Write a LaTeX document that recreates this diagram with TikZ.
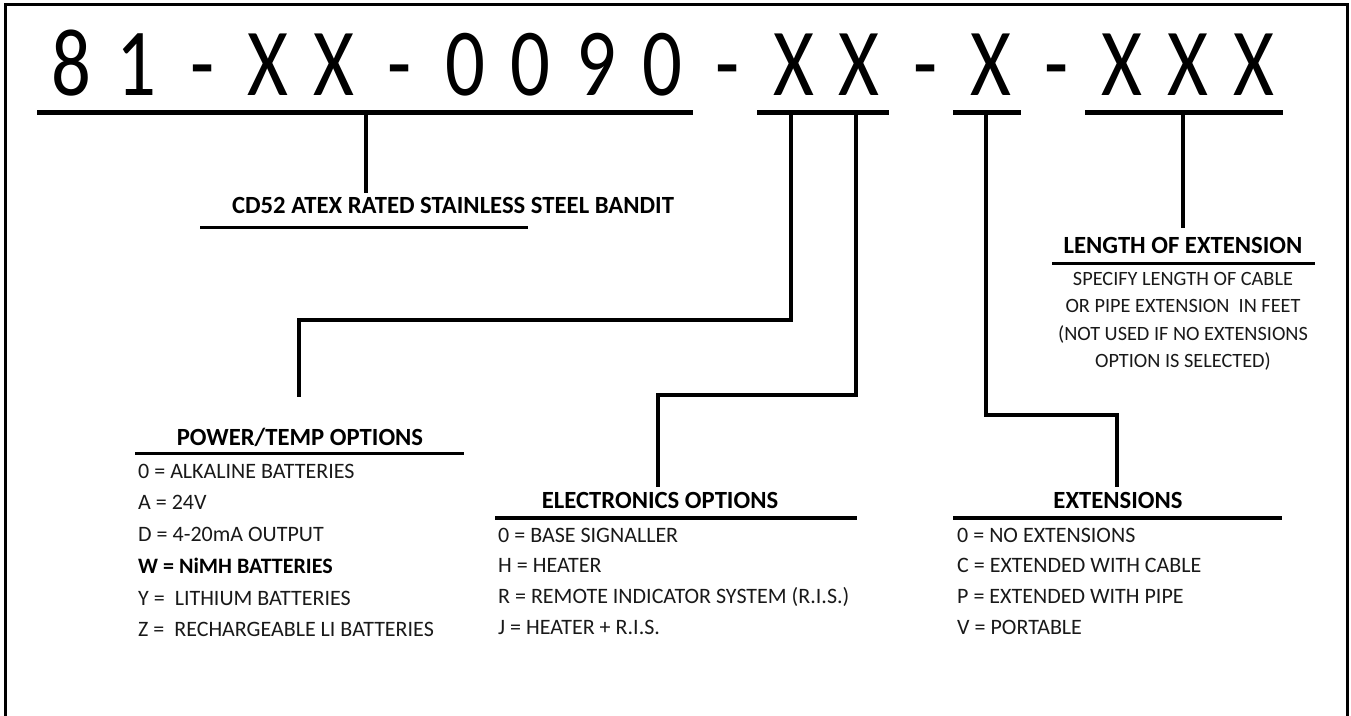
\documentclass[tikz,border=0pt]{standalone}
\usepackage{fontspec}
\setmainfont{Carlito}
\definecolor{itemc}{RGB}{25,25,25}
\begin{document}
\begin{tikzpicture}[x=1pt,y=-1pt,
  big/.style={anchor=base,inner sep=0pt,font=\fontsize{96}{96}\selectfont},
  hdr/.style={anchor=base,inner sep=0pt,font=\fontsize{24.7}{24.7}\selectfont\bfseries},
  item/.style={anchor=base west,inner sep=0pt,font=\fontsize{22}{22}\selectfont,text=itemc},
  note/.style={anchor=base,inner sep=0pt,font=\fontsize{20.3}{20.3}\selectfont,text=itemc},
  topline/.style={line width=5pt},
  hline/.style={line width=3.5pt},
  conn/.style={line width=4.5pt},
  frame/.style={line width=3pt},
]
\useasboundingbox (0,0) rectangle (1351,715);
% frame (open at bottom)
\coordinate (fbl) at (5,716);
\coordinate (ftl) at (5,4);
\coordinate (ftr) at (1347,4);
\coordinate (fbr) at (1347,716);
\draw[frame] (fbl) -- (ftl) -- (ftr) -- (fbr);

% part number characters
\foreach \c [count=\i from 0] in {8,1,-,X,X,-,0,0,9,0,-,X,X,-,X,-,X,X,X}
  \node[big] (c\i) at ({71+\i*65.7},95) {\scalebox{0.82}[1]{\c}};

% top underlines
\coordinate (uA1) at (37,112);   \coordinate (uA2) at (693,112);
\coordinate (uB1) at (757,112);  \coordinate (uB2) at (889,112);
\coordinate (uC1) at (953,112);  \coordinate (uC2) at (1021,112);
\coordinate (uD1) at (1085,112); \coordinate (uD2) at (1283,112);
\draw[topline] (uA1) -- (uA2);
\draw[topline] (uB1) -- (uB2);
\draw[topline] (uC1) -- (uC2);
\draw[topline] (uD1) -- (uD2);

% taps
\coordinate (tA) at (366,112);
\coordinate (tB1) at (791,112);
\coordinate (tB2) at (856,112);
\coordinate (tC) at (986,112);
\coordinate (tD) at (1183,112);

% headers
\node[hdr] (cd) at (453,213) {CD52 ATEX RATED STAINLESS STEEL BANDIT};
\node[hdr] (len) at (1183,253) {LENGTH OF EXTENSION};
\node[hdr] (pow) at (300,445) {POWER/TEMP OPTIONS};
\node[hdr] (ele) at (660,508) {ELECTRONICS OPTIONS};
\node[hdr] (ext) at (1118,508) {EXTENSIONS};

% header underlines
\coordinate (hcd1) at (200,227.5);  \coordinate (hcd2) at (528,227.5);
\coordinate (hln1) at (1052,263.5); \coordinate (hln2) at (1315,263.5);
\coordinate (hpw1) at (135,453.5);  \coordinate (hpw2) at (464,453.5);
\coordinate (hel1) at (495,518);    \coordinate (hel2) at (857,518);
\coordinate (hex1) at (953,518);    \coordinate (hex2) at (1282,518);
\draw[hline] (hcd1) -- (hcd2);
\draw[hline] (hln1) -- (hln2);
\draw[hline] (hpw1) -- (hpw2);
\draw[hline] (hel1) -- (hel2);
\draw[hline] (hex1) -- (hex2);

% connector ends
\coordinate (eA) at (366,193);
\coordinate (eB1) at (299,397);
\coordinate (eB2) at (658,487);
\coordinate (eC) at (1117,487);
\coordinate (eD) at (1183,228);

\draw[conn] (tA) -- (eA);
\draw[conn] (tB1) |- (299,320) -- (eB1);
\draw[conn] (tB2) |- (658,395) -- (eB2);
\draw[conn] (tC) |- (1117,415) -- (eC);
\draw[conn] (tD) -- (eD);

% length of extension note
\node[note] (n1) at (1183,285) {SPECIFY LENGTH OF CABLE};
\node[note] (n2) at (1183,312.5) {OR PIPE EXTENSION\ \ IN FEET};
\node[note] (n3) at (1183,340) {(NOT USED IF NO EXTENSIONS};
\node[note] (n4) at (1183,367.5) {OPTION IS SELECTED)};

% power/temp options
\node[item] (p1) at (138,478) {0 = ALKALINE BATTERIES};
\node[item] (p2) at (138,509) {A = 24V};
\node[item] (p3) at (138,541) {D = 4-20mA OUTPUT};
\node[item,font=\fontsize{22}{22}\selectfont\bfseries,text=black] (p4) at (138,573) {W = NiMH BATTERIES};
\node[item] (p5) at (138,605) {Y =\ \ LITHIUM BATTERIES};
\node[item] (p6) at (138,636) {Z =\ \ RECHARGEABLE LI BATTERIES};

% electronics options
\node[item] (e1) at (498,542) {0 = BASE SIGNALLER};
\node[item] (e2) at (498,572) {H = HEATER};
\node[item] (e3) at (498,603) {R = REMOTE INDICATOR SYSTEM (R.I.S.)};
\node[item] (e4) at (498,634) {J = HEATER + R.I.S.};

% extensions
\node[item] (x1) at (957,542) {0 = NO EXTENSIONS};
\node[item] (x2) at (957,572) {C = EXTENDED WITH CABLE};
\node[item] (x3) at (957,603) {P = EXTENDED WITH PIPE};
\node[item] (x4) at (957,634) {V = PORTABLE};
\end{tikzpicture}
\end{document}
